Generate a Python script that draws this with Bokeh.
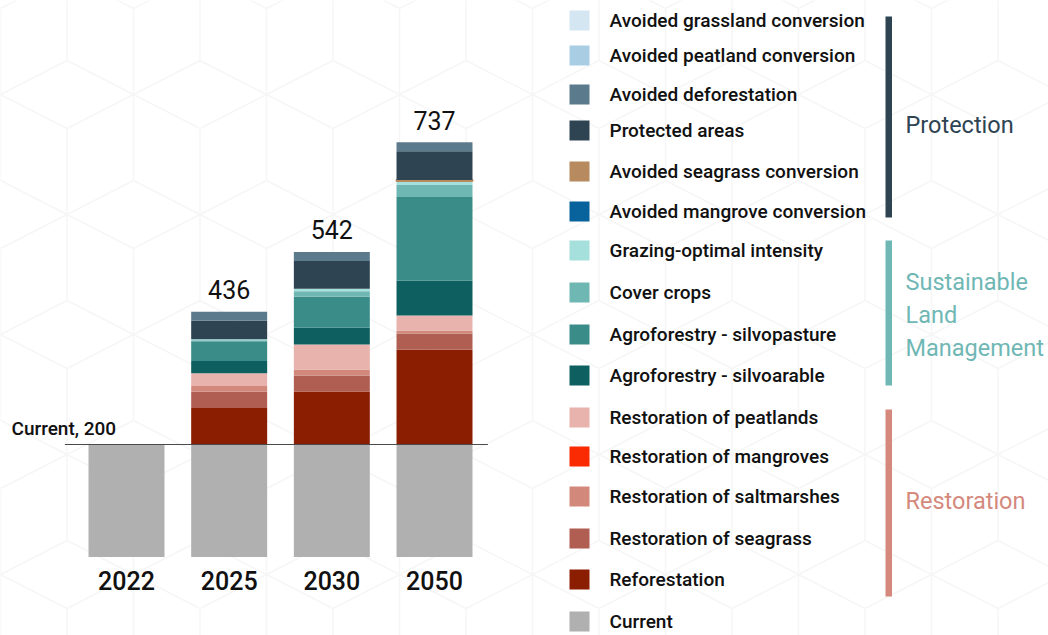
from bokeh.plotting import figure
from bokeh.layouts import row
from bokeh.models import ColumnDataSource, Range1d, Label
from bokeh.core.properties import value
from bokeh.embed import file_html
from bokeh.resources import INLINE

# ---------------- data ----------------
years = ["2022", "2025", "2030", "2050"]
current = [200, 200, 200, 200]
reforestation = [0, 65, 94, 168.5]
restoration_seagrass = [0, 28.5, 28.5, 28.5]
restoration_saltmarshes = [0, 10.5, 10.5, 5.5]
restoration_mangroves = [0, 0, 0, 0]
restoration_peatlands = [0, 22.5, 44.5, 26.5]
agroforestry_silvoarable = [0, 22, 30, 62]
agroforestry_silvopasture = [0, 35, 55, 148.5]
cover_crops = [0, 1.5, 9.5, 21.5]
grazing_optimal = [0, 2, 4.5, 7]
avoided_mangrove_conversion = [0, 0, 0, 0]
avoided_seagrass_conversion = [0, 0, 0, 2]
protected_areas = [0, 33, 49.5, 51]
avoided_deforestation = [0, 16, 16, 16]
avoided_peatland_conversion = [0, 0, 0, 0]
avoided_grassland_conversion = [0, 0, 0, 0]

# bottom -> top stacking order
series_names = [
    "Current", "Reforestation", "Restoration of seagrass", "Restoration of saltmarshes",
    "Restoration of mangroves", "Restoration of peatlands", "Agroforestry - silvoarable",
    "Agroforestry - silvopasture", "Cover crops", "Grazing-optimal intensity",
    "Avoided mangrove conversion", "Avoided seagrass conversion", "Protected areas",
    "Avoided deforestation", "Avoided peatland conversion", "Avoided grassland conversion",
]
series_values = [
    current, reforestation, restoration_seagrass, restoration_saltmarshes,
    restoration_mangroves, restoration_peatlands, agroforestry_silvoarable,
    agroforestry_silvopasture, cover_crops, grazing_optimal,
    avoided_mangrove_conversion, avoided_seagrass_conversion, protected_areas,
    avoided_deforestation, avoided_peatland_conversion, avoided_grassland_conversion,
]
series_colors = [
    "#b0b0b0", "#8b1d00", "#b05e51", "#d2897c",
    "#fa2b02", "#e8b2ad", "#0e5f5f",
    "#3a8c88", "#6fb7b2", "#a5e0dd",
    "#08629c", "#b78a5f", "#2e4453",
    "#5b7a8c", "#a9cee3", "#d4e6f1",
]
outlined = {"Avoided seagrass conversion"}

groups = ["Protection", "Sustainable\nLand\nManagement", "Restoration"]
group_colors = ["#2e4453", "#6fb7b5", "#d4897c"]

# ---------------- layout constants ----------------
W_LEFT, W_RIGHT, H = 558, 490, 635
PX_PER_CAT = 102.67
PX_PER_UNIT = 0.563
ZERO_Y = 556.6
FIRST_X = 126
FONT = value("Roboto")
FONT_MED = value("Roboto Medium")
BG_LINE = "#f6f6f6"

# background cube pattern (decoration, in pixels)
def cube_pattern(w, h, x_off):
    hw, b, a, dy, top0 = 66.5, 34, 86, 120, 60
    segs = []
    for r in range(-2, int(h / dy) + 2):
        T = top0 + dy * r
        shift = hw if r % 2 else 0
        k0 = int((x_off - 200) / 133) - 1
        for k in range(k0, k0 + int(w / 133) + 4):
            cx = hw + 133 * k + shift
            segs += [
                (cx - hw, T + b, cx, T), (cx, T, cx + hw, T + b),
                (cx - hw, T + b, cx, T + 2 * b), (cx + hw, T + b, cx, T + 2 * b),
                (cx, T + 2 * b, cx, T + 2 * b + a),
                (cx - hw, T + b, cx - hw, T + b + a),
            ]
    return segs

# ---------------- left: bars ----------------
x0 = -FIRST_X / PX_PER_CAT
y_top = ZERO_Y / PX_PER_UNIT
y_bot = -(H - ZERO_Y) / PX_PER_UNIT
left = figure(width=W_LEFT, height=H, output_backend="svg", toolbar_location=None,
              x_range=Range1d(x0, x0 + W_LEFT / PX_PER_CAT), y_range=Range1d(y_bot, y_top),
              min_border=0, outline_line_color=None, background_fill_color="white",
              border_fill_color="white")
left.axis.visible = False
left.grid.visible = False

segs = cube_pattern(W_LEFT, H, 0)
left.segment(x0=[x0 + s[0] / PX_PER_CAT for s in segs], y0=[(ZERO_Y - s[1]) / PX_PER_UNIT for s in segs],
             x1=[x0 + s[2] / PX_PER_CAT for s in segs], y1=[(ZERO_Y - s[3]) / PX_PER_UNIT for s in segs],
             line_color=BG_LINE, line_width=1.5)

xs = list(range(len(years)))
cum = [0.0] * len(years)
for name, vals, col in zip(series_names, series_values, series_colors):
    xx, bb, tt = [], [], []
    for i, v in enumerate(vals):
        if v > 0:
            xx.append(xs[i]); bb.append(cum[i]); tt.append(cum[i] + v)
        cum[i] += v
    if xx:
        src = ColumnDataSource(dict(x=xx, bottom=bb, top=tt))
        if name in outlined:
            left.vbar(x="x", bottom="bottom", top="top", width=0.74, source=src,
                      fill_color=col, line_color=col, line_width=2)
        else:
            left.vbar(x="x", bottom="bottom", top="top", width=0.74, source=src,
                      fill_color=col, line_color=None)

# baseline at current level
left.segment(x0=[xs[0] - 0.6], y0=[current[0]], x1=[xs[-1] + 0.52], y1=[current[0]],
             line_color="#4a4a4a", line_width=1)
left.add_layout(Label(x=11, x_units="screen", y=current[0], y_offset=16.5,
                      text="Current, %d" % current[0], text_font="Roboto Medium",
                      text_font_size="19px", text_color="#111111",
                      text_baseline="middle"))

# totals
tot_x, tot_y, tot_t = [], [], []
for i in range(len(years)):
    if cum[i] > current[i]:
        tot_x.append(xs[i]); tot_y.append(cum[i]); tot_t.append("%d" % round(cum[i]))
left.text(x=tot_x, y=tot_y, text=tot_t, text_align="center", text_baseline="middle",
          y_offset=-22, text_font=FONT, text_font_size="25px", text_color="#111111")

# year labels
left.text(x=xs, y=[0] * len(xs), text=years, text_align="center", text_baseline="middle",
          y_offset=23.5, text_font=FONT_MED, text_font_size="25px", text_color="#111111")

# ---------------- right: legend ----------------
PX0 = W_LEFT
right = figure(width=W_RIGHT, height=H, output_backend="svg", toolbar_location=None,
               x_range=Range1d(PX0, PX0 + W_RIGHT), y_range=Range1d(H, 0),
               min_border=0, outline_line_color=None, background_fill_color="white",
               border_fill_color="white")
right.axis.visible = False
right.grid.visible = False

segs = cube_pattern(W_RIGHT + PX0, H, PX0)
right.segment(x0=[s[0] for s in segs], y0=[s[1] for s in segs],
              x1=[s[2] for s in segs], y1=[s[3] for s in segs],
              line_color=BG_LINE, line_width=1.5)

legend_y = [20, 55, 94, 130, 171, 211, 250, 292, 334, 375, 417, 456, 496, 538, 579, 621]
leg_names = list(reversed(series_names))
leg_colors = list(reversed(series_colors))
right.rect(x=[579] * len(leg_names), y=legend_y, width=20, height=20,
           width_units="screen", height_units="screen", fill_color=leg_colors, line_color=None)
right.text(x=[609] * len(leg_names), y=legend_y, text=leg_names, text_baseline="middle",
           text_align="left", text_font=FONT_MED, text_font_size="19px", text_color="#111111")

bracket_y = [(16, 217), (240, 385), (409, 596)]
label_lines_y = [[124], [281, 314, 347], [500]]
for (ya, yb), gname, gcol, ly in zip(bracket_y, groups, group_colors, label_lines_y):
    right.quad(left=[885], right=[891.5], top=[ya], bottom=[yb], fill_color=gcol, line_color=None)
    lines = gname.split("\n")
    right.text(x=[905] * len(lines), y=ly, text=lines, text_baseline="middle",
               text_align="left", text_font=FONT, text_font_size="23.5px", text_color=gcol)

layout = row(left, right)
open("out.html", "w").write(file_html(layout, INLINE))
